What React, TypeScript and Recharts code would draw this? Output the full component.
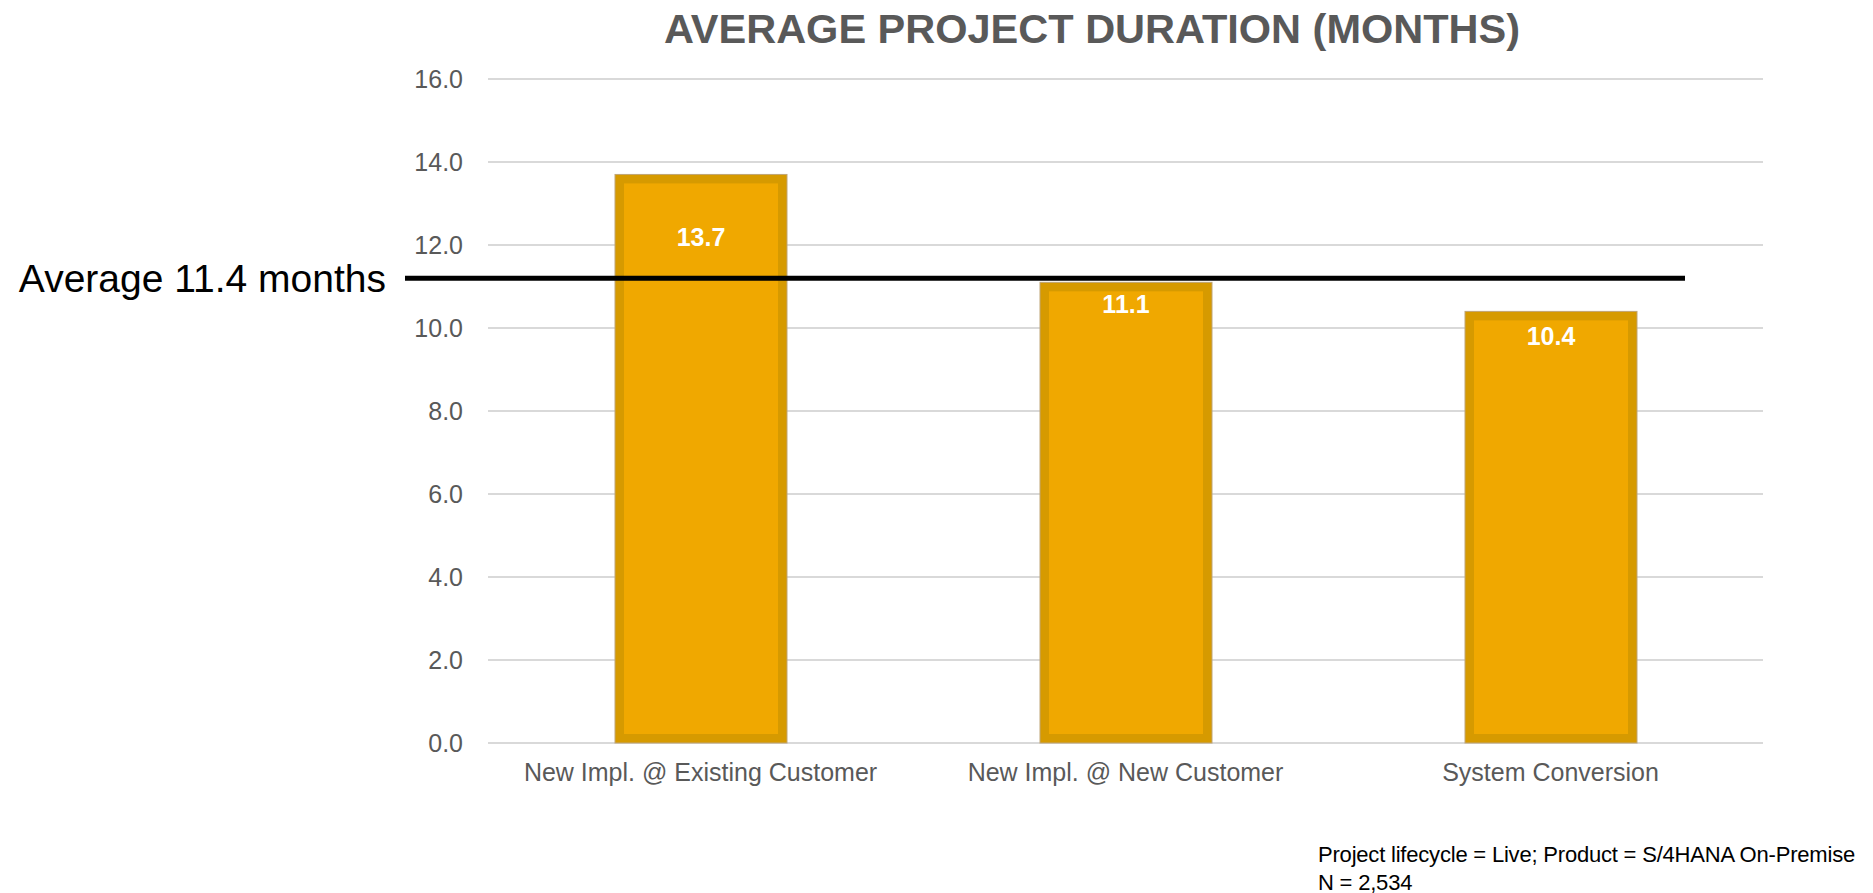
import { BarChart, Bar, XAxis, YAxis, CartesianGrid, ReferenceLine, LabelList } from 'recharts';

const categories = ['New Impl. @ Existing Customer', 'New Impl. @ New Customer', 'System Conversion'];
const durations = [13.7, 11.1, 10.4];
const yTicks = [0, 2, 4, 6, 8, 10, 12, 14, 16];
const averageLineAt = 11.2;
const averageLabel = 'Average 11.4 months';
const footnotes = ['Project lifecycle = Live; Product = S/4HANA On-Premise', 'N = 2,534'];

const data = categories.map((name, i) => ({ name, value: durations[i] }));

// how far below the bar top each value label sits
const labelDrop = [63, 22, 25];

const font = '"Liberation Sans", Arial, sans-serif';

const BorderedBar = (props: any) => {
  const { x, y, width, height } = props;
  const b = 9;
  return (
    <g>
      <rect x={x} y={y} width={width} height={height} fill="#D69A00" stroke="#BFA576" strokeWidth={1} />
      <rect x={x + b} y={y + b} width={width - 2 * b} height={Math.max(0, height - 2 * b)} fill="#F0A800" />
    </g>
  );
};

const ValueLabel = (props: any) => {
  const { x, y, width, value, index } = props;
  const drop = labelDrop[index ?? 0] ?? 24;
  return (
    <text x={x + width / 2} y={y + drop} textAnchor="middle" dominantBaseline="central"
      fill="#fff" fontWeight="bold" fontSize={25} fontFamily={font}>
      {Number(value).toFixed(1)}
    </text>
  );
};

const AverageLine = (p: any) => (
  <g>
    <line x1={405} x2={1685} y1={p.y1} y2={p.y1} stroke="#000" strokeWidth={5} />
    <text x={386} y={p.y1} textAnchor="end" dominantBaseline="central" fontSize={39} fontFamily={font} fill="#000">
      {averageLabel}
    </text>
  </g>
);

export default function App() {
  return (
    <div style={{ position: 'absolute', left: 0, top: 0, width: 1873, height: 893, background: '#fff', fontFamily: font }}>
      <div style={{ position: 'absolute', left: 0, width: 2184, top: 4, textAlign: 'center', fontSize: 41.5, fontWeight: 'bold', color: '#595959', lineHeight: '50px' }}>
        AVERAGE PROJECT DURATION (MONTHS)
      </div>
      <BarChart width={1873} height={893} data={data} barSize={172}
        margin={{ top: 79, right: 110, bottom: 120, left: 0 }}>
        <CartesianGrid vertical={false} stroke="#d9d9d9" strokeWidth={2} />
        <XAxis dataKey="name" height={30} axisLine={false} tickLine={false} tickMargin={14} interval={0}
          tick={{ fill: '#595959', fontSize: 25, fontFamily: font }} />
        <YAxis width={488} domain={[0, 16]} ticks={yTicks} axisLine={false} tickLine={false} tickMargin={19}
          tickFormatter={(v: number) => v.toFixed(1)}
          tick={{ fill: '#595959', fontSize: 25, fontFamily: font }} />
        <Bar dataKey="value" shape={BorderedBar} isAnimationActive={false}>
          <LabelList dataKey="value" content={ValueLabel} />
        </Bar>
        <ReferenceLine y={averageLineAt} shape={AverageLine} />
      </BarChart>
      <div style={{ position: 'absolute', left: 1318, top: 841, fontSize: 22, letterSpacing: -0.2, lineHeight: '28px', color: '#000' }}>
        {footnotes.map((t) => <div key={t}>{t}</div>)}
      </div>
    </div>
  );
}
